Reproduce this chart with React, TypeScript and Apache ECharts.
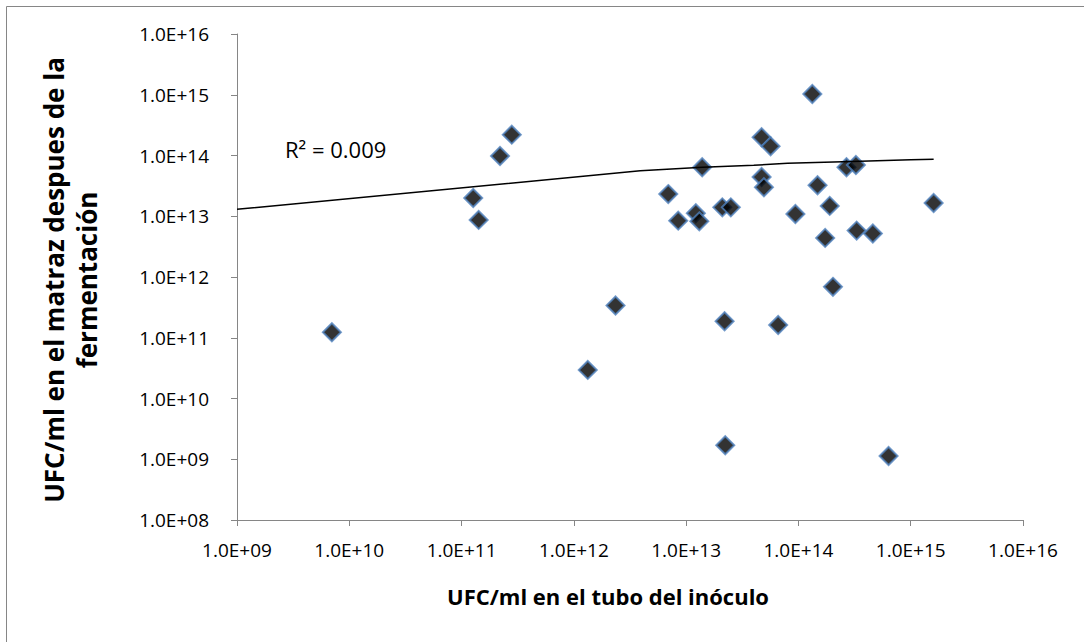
import React, { useEffect, useRef } from "react";
import * as echarts from "echarts";

// Inoculum tube UFC/ml (x) vs flask UFC/ml after fermentation (y)
const inoculoX = [
  2.8e11, 2.2e11, 1.27e11, 1.42e11, 7.0e9, 2.35e12, 1.33e12, 1.33e14, 4.7e13, 5.65e13,
  1.39e13, 2.68e14, 3.25e14, 4.7e13, 4.93e13, 1.48e14, 6.93e12, 1.22e13, 8.5e12, 1.31e13,
  2.1e13, 2.5e13, 9.4e13, 1.9e14, 1.73e14, 3.3e14, 4.6e14, 1.6e15, 2.03e14, 2.2e13,
  6.6e13, 2.23e13, 6.35e14,
];
const matrazY = [
  2.2e14, 9.8e13, 2.0e13, 8.7e12, 1.23e11, 3.4e11, 2.95e10, 1.03e15, 2.0e14, 1.42e14,
  6.4e13, 6.4e13, 6.98e13, 4.43e13, 3.0e13, 3.24e13, 2.32e13, 1.12e13, 8.45e12, 8.26e12,
  1.4e13, 1.4e13, 1.09e13, 1.48e13, 4.4e12, 5.8e12, 5.2e12, 1.65e13, 6.9e11, 1.87e11,
  1.62e11, 1.7e9, 1.13e9,
];

// Trendline as drawn in the reference
const trendX = [1e9, 3.9e12, 1.4e13, 4e13, 8e13, 3e14, 1e15, 1.6e15];
const trendY = [1.3e13, 5.6e13, 6.4e13, 6.9e13, 7.45e13, 8.0e13, 8.5e13, 8.7e13];

const xTitle = "UFC/ml en el tubo del inóculo";
const yTitle = "UFC/ml en el matraz despues de la\nfermentación";
const r2Label = "R² = 0.009";

const FONT = "'Open Sans', 'Noto Sans', sans-serif";

const fmt = (v: number) => {
  const e = Math.round(Math.log10(v));
  return "1.0E+" + (e < 10 ? "0" + e : String(e));
};

export default function App() {
  const ref = useRef<HTMLDivElement>(null);
  useEffect(() => {
    if (!ref.current) return;
    const chart = echarts.init(ref.current, undefined, { renderer: "svg" });
    const axisCommon = {
      type: "log" as const,
      logBase: 10,
      axisLine: { show: true, lineStyle: { color: "#868686", width: 1 } },
      axisTick: { show: true, inside: false, length: 6, lineStyle: { color: "#868686" } },
      splitLine: { show: false },
      minorTick: { show: false },
    };
    chart.setOption({
      animation: false,
      backgroundColor: "#fff",
      grid: { left: 237, right: 61, top: 34, bottom: 122, containLabel: false },
      xAxis: {
        ...axisCommon,
        min: 1e9,
        max: 1e16,
        splitNumber: 7,
        axisLabel: {
          formatter: fmt,
          color: "#000",
          fontFamily: FONT,
          fontSize: 19,
          margin: 20,
        },
      },
      yAxis: {
        ...axisCommon,
        min: 1e8,
        max: 1e16,
        splitNumber: 8,
        axisLabel: {
          formatter: fmt,
          color: "#000",
          fontFamily: FONT,
          fontSize: 19,
          margin: 28,
        },
      },
      graphic: [
        {
          type: "rect",
          shape: { x: 6.5, y: 6.5, width: 1200, height: 800 },
          style: { fill: "none", stroke: "#868686", lineWidth: 1 },
          silent: true,
        },
        {
          type: "text",
          x: 608,
          y: 596,
          style: {
            text: xTitle,
            fontFamily: FONT,
            fontSize: 22,
            fontWeight: "bold",
            fill: "#000",
            align: "center",
            verticalAlign: "middle",
          },
        },
        {
          type: "text",
          x: 70,
          y: 280,
          rotation: Math.PI / 2,
          style: {
            text: yTitle,
            fontFamily: FONT,
            fontSize: 26,
            fontWeight: "bold",
            fill: "#000",
            align: "center",
            verticalAlign: "middle",
            lineHeight: 33,
          },
        },
        {
          type: "text",
          x: 285,
          y: 149,
          style: {
            text: r2Label,
            fontFamily: FONT,
            fontSize: 22,
            fill: "#000",
            align: "left",
            verticalAlign: "middle",
          },
        },
      ],
      series: [
        {
          type: "scatter",
          data: inoculoX.map((x, i) => [x, matrazY[i]]),
          symbol: "diamond",
          symbolSize: 18,
          itemStyle: { color: "#000", borderColor: "#4f81bd", borderWidth: 2 },
          z: 2,
        },
        {
          type: "line",
          data: trendX.map((x, i) => [x, trendY[i]]),
          showSymbol: false,
          symbol: "none",
          lineStyle: { color: "#000", width: 1.5 },
          z: 3,
        },
      ],
    });
    return () => chart.dispose();
  }, []);
  return (
    <div
      ref={ref}
      style={{ position: "absolute", left: 0, top: 0, width: 1084, height: 642 }}
    />
  );
}
